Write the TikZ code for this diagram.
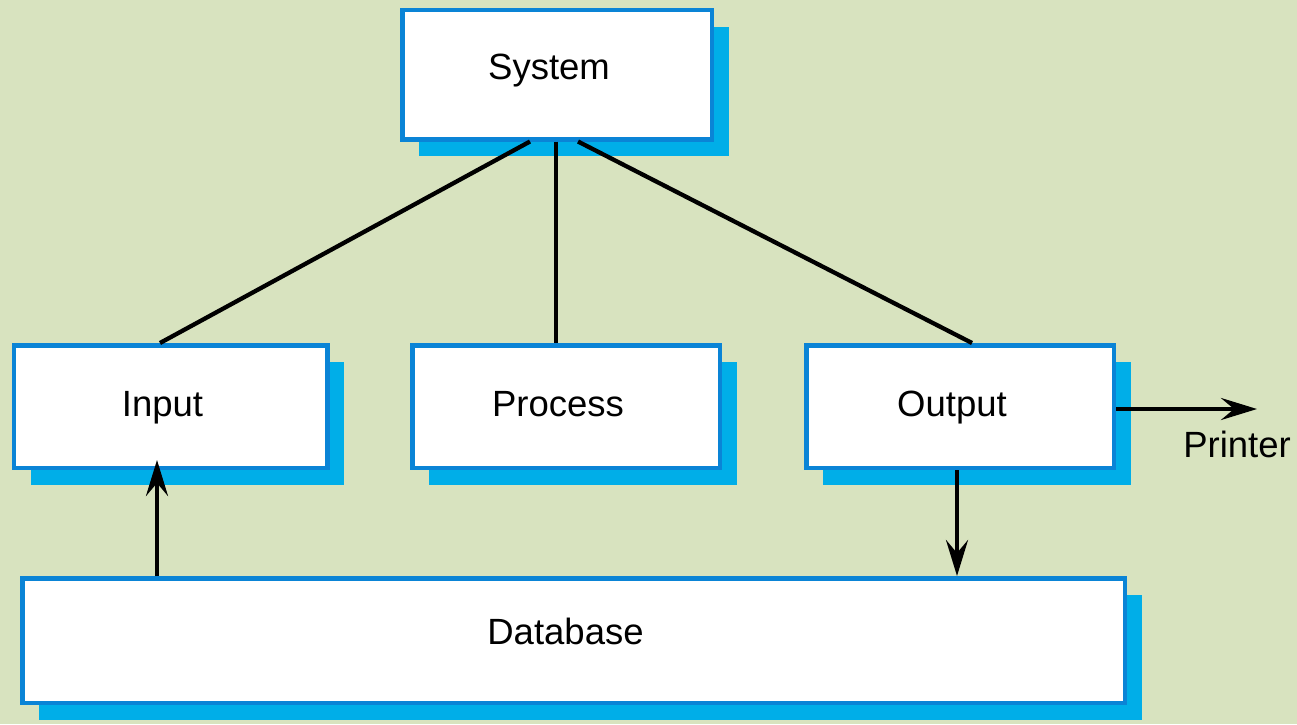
\documentclass[tikz,border=0pt]{standalone}
\usepackage{fontspec}
\setmainfont{Liberation Sans}
\usetikzlibrary{arrows.meta,shadows}
\definecolor{bg}{HTML}{D8E3BF}
\definecolor{edge}{HTML}{0A84D6}
\definecolor{shade}{HTML}{00AEE8}
\tikzset{
  box/.style={draw=edge, line width=4.5pt, fill=white, rectangle, inner sep=0pt,
    font=\fontsize{36.5}{40}\selectfont, text height=27pt,
    execute at begin node=\kern-16pt,
    general shadow={shadow xshift=17pt, shadow yshift=-17pt, fill=shade}},
  link/.style={line width=4.3pt, black},
  arr/.style={link, -{Stealth[length=36pt,width=22pt,inset=13pt]}},
}
\begin{document}
\begin{tikzpicture}[x=1pt,y=-1pt]
\fill[bg] (0,0) rectangle (1297,724);
\useasboundingbox (0,0) rectangle (1297,724);
\node[box, minimum width=309.5pt, minimum height=129.5pt, text depth=18pt] (sys) at (557,74.5) {System};
\node[box, minimum width=313.5pt, minimum height=122.5pt, text depth=8pt] (in) at (170.5,406.5) {Input};
\node[box, minimum width=307.5pt, minimum height=122.5pt, text depth=8pt] (proc) at (566,406.5) {Process};
\node[box, minimum width=307.5pt, minimum height=122.5pt, text depth=8pt] (out) at (960,406.5) {Output};
\node[box, minimum width=1102.5pt, minimum height=124.5pt, text depth=20pt] (db) at (573.5,640.5) {Database};
\coordinate (pr) at (1257,409);
\node[font=\fontsize{36.5}{40}\selectfont, anchor=north] (prl) at (1237,428) {Printer};
\draw[link] (sys.south -| 530,0) -- (in.north -| 160,0);
\draw[link] (sys.south -| 556,0) -- (proc.north -| 556,0);
\draw[link] (sys.south -| 578,0) -- (out.north -| 972,0);
\draw[arr] (db.north -| 157,0) -- ([yshift=10pt]in.south -| 157,0);
\draw[arr] (out.south -| 957,0) -- (db.north -| 957,0);
\draw[arr] (out.east |- 0,409) -- (pr);
\end{tikzpicture}
\end{document}
